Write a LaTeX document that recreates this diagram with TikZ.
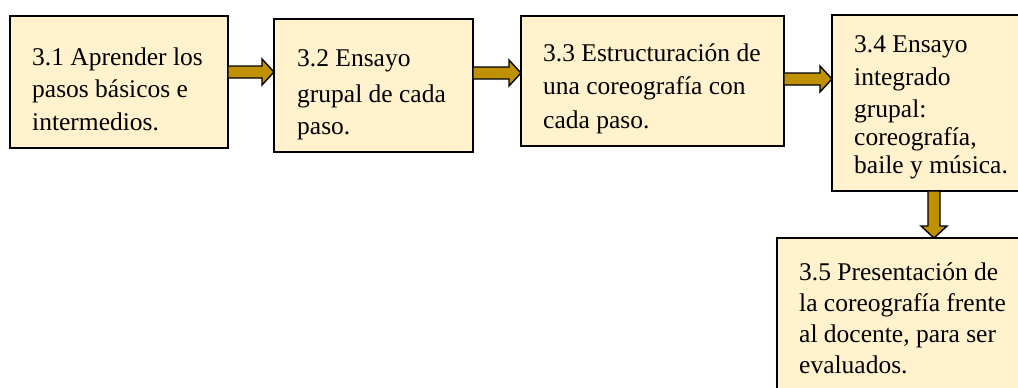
\documentclass[tikz,border=0pt]{standalone}
\usepackage{fontspec}
\setmainfont{Liberation Serif}
\usetikzlibrary{calc}
\definecolor{boxfill}{HTML}{FFF2CC}
\definecolor{arrowgold}{HTML}{BF9000}
\tikzset{
	stepbox/.style={draw=black, line width=1.8pt, fill=boxfill, anchor=north west, inner sep=0pt, outer sep=0pt},
	steptext/.style={anchor=base west, inner sep=0pt, align=left},
	blockarrow/.style={draw=black, fill=arrowgold, line width=1.4pt, line join=miter}
}
\def\blockright(#1)(#2)(#3){\draw[blockarrow] let \p1=(#1.east), \p2=(#2.west) in (\x1,{(6-#3)*1pt}) -- (\x2-12pt,{(6-#3)*1pt}) -- (\x2-12pt,{(13-#3)*1pt}) -- (\x2,{-#3*1pt}) -- (\x2-12pt,{(-13-#3)*1pt}) -- (\x2-12pt,{(-6-#3)*1pt}) -- (\x1,{(-6-#3)*1pt}) -- cycle;}
\def\blockdown(#1)(#2)(#3){\draw[blockarrow] let \p1=(#1.south), \p2=(#2.north) in ({(#3-6)*1pt},\y1) -- ({(#3-6)*1pt},\y2+12pt) -- ({(#3-13)*1pt},\y2+12pt) -- ({#3*1pt},\y2) -- ({(#3+13)*1pt},\y2+12pt) -- ({(#3+6)*1pt},\y2+12pt) -- ({(#3+6)*1pt},\y1) -- cycle;}

\begin{document}
\begin{tikzpicture}[x=1pt, y=1pt]
		%%%%% START %%%%%
		\useasboundingbox (0, 0) rectangle (1018, -388);
		
		\node[stepbox, minimum width=218, minimum height=132] (b1) at (10, -16) {};
		\node[stepbox, minimum width=199, minimum height=133] (b2) at (274, -19) {};
		\node[stepbox, minimum width=263, minimum height=130] (b3) at (521, -16) {};
		\node[stepbox, minimum width=200, minimum height=176] (b4) at (832, -15) {};
		\node[stepbox, minimum width=250, minimum height=160] (b5) at (777, -238) {};
		
		% base anchor sits on the last line
		\node[steptext, font=\fontsize{25.5}{32.5}\selectfont] (t1) at (32, -130) {3.1 Aprender los\\pasos básicos e\\intermedios.};
		\node[steptext, font=\fontsize{25.5}{32.5}\selectfont] (t2) at (297, -134.5) {3.2 Ensayo\\[3.5pt]grupal de cada\\paso.};
		\node[steptext, font=\fontsize{25.5}{33.5}\selectfont] (t3) at (543, -128) {3.3 Estructuración de\\una coreografía con\\cada paso.};
		\node[steptext, font=\fontsize{25.5}{30}\selectfont] (t4) at (854, -173) {3.4 Ensayo\\[3pt]integrado\\[2pt]grupal:\\[-2pt]coreografía,\\[-2pt]baile y música.};
		\node[steptext, font=\fontsize{25.5}{31}\selectfont] (t5) at (799, -373) {3.5 Presentación de\\la coreografía frente\\al docente, para ser\\evaluados.};
		
		\blockright(b1)(b2)(72)
		\blockright(b2)(b3)(73)
		\blockright(b3)(b4)(79)
		\blockdown(b4)(b5)(934)
		
		%%%%% END %%%%%
	\end{tikzpicture}
\end{document}
